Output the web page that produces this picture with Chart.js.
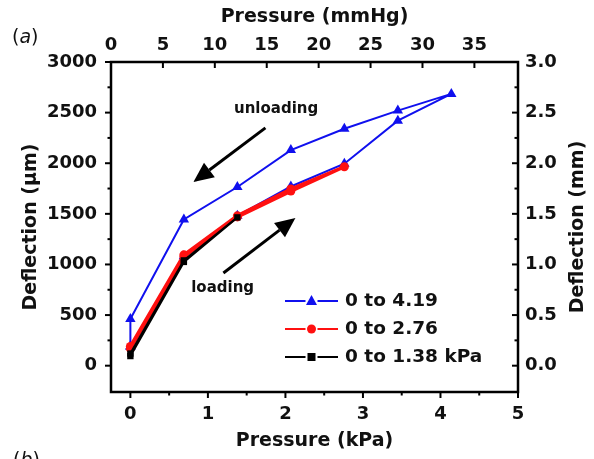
<!DOCTYPE html>
<html>
<head>
<meta charset="utf-8">
<script src="https://cdn.jsdelivr.net/npm/chart.js@4.4.0/dist/chart.umd.min.js"></script>
<style>
  html, body { margin: 0; padding: 0; background: #fff; }
  #wrap { position: relative; width: 594px; height: 459px; overflow: hidden; }
  .lab { position: absolute; font-family: 'DejaVu Sans', sans-serif; font-size: 19px; color: #111; }
</style>
</head>
<body>
<div id="wrap">
  <canvas id="c"></canvas>
  <span class="lab" style="left:12px; top:25px;">(<i>a</i>)</span>
  <span class="lab" style="left:13px; top:448px;">(<i>b</i>)</span>
</div>
<script>
// ---------- data ----------
const kpaBlue = [0, 0.69, 1.38, 2.07, 2.76, 3.45, 4.14, 3.45, 2.76, 2.07, 1.38, 0.69, 0, 0];
const defBlue = [190, 1080, 1480, 1770, 1995, 2420, 2685, 2520, 2340, 2130, 1765, 1445, 460, 190];

const kpaRed = [0, 0.69, 1.38, 2.07, 2.76, 2.07, 1.38, 0.69, 0];
const defRed = [170, 1075, 1470, 1725, 1965, 1745, 1480, 1095, 190];

const kpaBlack = [0, 0.69, 1.38, 0.69, 0];
const defBlack = [95, 1025, 1465, 1040, 120];

const seriesLabels = ['0 to 4.19', '0 to 2.76', '0 to 1.38 kPa'];

const kpaTicks = [0, 1, 2, 3, 4, 5];
const mmHgTicks = [0, 5, 10, 15, 20, 25, 30, 35];
const umTicks = [0, 500, 1000, 1500, 2000, 2500, 3000];
const mmTicks = [0, 0.5, 1.0, 1.5, 2.0, 2.5, 3.0];

const annotations = [
  { text: 'unloading', x: 1.88, y: 2537, fromX: 1.742, fromY: 2349, toX: 0.813, toY: 1815 },
  { text: 'loading', x: 1.19, y: 768, fromX: 1.20, fromY: 916, toX: 2.129, toY: 1459 }
];

// ---------- helpers ----------
const FONT = "'DejaVu Sans', sans-serif";
const pts = (xs, ys) => xs.map((x, i) => ({ x: x, y: ys[i] }));
const BLUE = '#1010ee', RED = '#ff1010', BLACK = '#000000';

const decorPlugin = {
  id: 'decor',
  afterDraw(chart) {
    const ctx = chart.ctx, a = chart.chartArea;
    const { x, x2, y, y2 } = chart.scales;
    ctx.save();
    ctx.strokeStyle = '#000';
    ctx.lineCap = 'butt';
    const seg = (x1, y1, x2_, y2_) => { ctx.beginPath(); ctx.moveTo(x1, y1); ctx.lineTo(x2_, y2_); ctx.stroke(); };
    ctx.lineWidth = 2;
    // bottom: outward
    kpaTicks.forEach((t, i) => {
      const p = x.getPixelForValue(t); seg(p, a.bottom, p, a.bottom + 6);
      if (i < kpaTicks.length - 1) { const m = x.getPixelForValue((t + kpaTicks[i + 1]) / 2); seg(m, a.bottom, m, a.bottom + 3.5); }
    });
    // top: inward
    mmHgTicks.forEach(t => { const p = x2.getPixelForValue(t); seg(p, a.top, p, a.top + 6); });
    // left: outward
    umTicks.forEach((t, i) => {
      const p = y.getPixelForValue(t); seg(a.left, p, a.left - 6, p);
      if (i < umTicks.length - 1) { const m = y.getPixelForValue((t + umTicks[i + 1]) / 2); seg(a.left, m, a.left - 3.5, m); }
    });
    // right: inward
    mmTicks.forEach((t, i) => {
      const p = y2.getPixelForValue(t); seg(a.right, p, a.right - 6, p);
      if (i < mmTicks.length - 1) { const m = y2.getPixelForValue((t + mmTicks[i + 1]) / 2); seg(a.right, m, a.right - 3.5, m); }
    });
    // frame
    ctx.lineWidth = 2.5;
    ctx.strokeRect(a.left, a.top, a.right - a.left, a.bottom - a.top);

    // right title (reads bottom-to-top)
    ctx.save();
    ctx.fillStyle = '#111';
    ctx.font = "bold 19px " + FONT;
    ctx.textAlign = 'center'; ctx.textBaseline = 'middle';
    ctx.translate(578, (a.top + a.bottom) / 2);
    ctx.rotate(-Math.PI / 2);
    ctx.fillText('Deflection (mm)', 0, 0);
    ctx.restore();

    // annotations
    annotations.forEach(an => {
      ctx.fillStyle = '#111';
      ctx.font = "bold 15px " + FONT;
      ctx.textAlign = 'center'; ctx.textBaseline = 'middle';
      ctx.fillText(an.text, x.getPixelForValue(an.x), y.getPixelForValue(an.y));
      const fx = x.getPixelForValue(an.fromX), fy = y.getPixelForValue(an.fromY);
      const tx = x.getPixelForValue(an.toX), ty = y.getPixelForValue(an.toY);
      const ang = Math.atan2(ty - fy, tx - fx);
      const hl = 20, hw = 9;
      const bx = tx - hl * Math.cos(ang), by = ty - hl * Math.sin(ang);
      ctx.strokeStyle = '#000'; ctx.lineWidth = 3;
      seg(fx, fy, bx, by);
      ctx.fillStyle = '#000';
      ctx.beginPath();
      ctx.moveTo(tx, ty);
      ctx.lineTo(bx + hw * Math.sin(ang), by - hw * Math.cos(ang));
      ctx.lineTo(bx - hw * Math.sin(ang), by + hw * Math.cos(ang));
      ctx.closePath(); ctx.fill();
    });

    // legend (line - marker - line)
    [0, 1, 2].forEach((di, row) => {
      const ds = chart.data.datasets[di];
      const ry = a.top + 239 + row * 28;
      const lx0 = a.left + 174, lx1 = a.left + 227, mx = (lx0 + lx1) / 2;
      ctx.strokeStyle = ds.borderColor; ctx.lineWidth = 2;
      seg(lx0, ry, mx - 6, ry); seg(mx + 6, ry, lx1, ry);
      ctx.fillStyle = ds.borderColor;
      ctx.beginPath();
      if (ds.pointStyle === 'triangle') {
        ctx.moveTo(mx, ry - 6); ctx.lineTo(mx + 5.5, ry + 4); ctx.lineTo(mx - 5.5, ry + 4); ctx.closePath();
      } else if (ds.pointStyle === 'circle') {
        ctx.arc(mx, ry, 4.5, 0, Math.PI * 2);
      } else {
        ctx.rect(mx - 4, ry - 4, 8, 8);
      }
      ctx.fill();
      ctx.fillStyle = '#111';
      ctx.font = "bold 18.5px " + FONT;
      ctx.textAlign = 'left'; ctx.textBaseline = 'middle';
      ctx.fillText(ds.label, lx1 + 7, ry);
    });
    ctx.restore();
  }
};

const tickFont = { family: FONT, size: 18, weight: 'bold' };
const titleFont = { family: FONT, size: 19, weight: 'bold' };
const setTicks = vals => (s => { s.ticks = vals.map(v => ({ value: v })); });

new Chart(document.getElementById('c'), {
  type: 'line',
  data: {
    datasets: [
      { label: seriesLabels[0], data: pts(kpaBlue, defBlue), borderColor: BLUE, backgroundColor: BLUE,
        borderWidth: 2, pointStyle: 'triangle', pointRadius: 6, pointBorderWidth: 0, order: 3 },
      { label: seriesLabels[1], data: pts(kpaRed, defRed), borderColor: RED, backgroundColor: RED,
        borderWidth: 3.5, pointStyle: 'circle', pointRadius: 4.5, pointBorderWidth: 0, order: 2 },
      { label: seriesLabels[2], data: pts(kpaBlack, defBlack), borderColor: BLACK, backgroundColor: BLACK,
        borderWidth: 2.2, pointStyle: 'rect', pointRadius: 4.5, pointBorderWidth: 0, order: 1 }
    ]
  },
  options: {
    responsive: true, maintainAspectRatio: false, devicePixelRatio: 1, animation: false,
    layout: { padding: 0 },
    elements: { line: { tension: 0, fill: false } },
    plugins: { legend: { display: false }, tooltip: { enabled: false } },
    scales: {
      x: {
        type: 'linear', position: 'bottom', min: -0.25, max: 5,
        afterBuildTicks: setTicks(kpaTicks),
        afterFit: s => { s.height = 67; },
        grid: { display: false, drawTicks: false, tickLength: 0 },
        border: { display: false },
        ticks: { font: tickFont, color: '#111', padding: 12, maxRotation: 0, callback: v => String(v) },
        title: { display: true, text: 'Pressure (kPa)', font: titleFont, color: '#111', padding: { top: 0, bottom: 7 } }
      },
      x2: {
        type: 'linear', position: 'top', min: 0, max: 39.2,
        afterBuildTicks: setTicks(mmHgTicks),
        afterFit: s => { s.height = 62; },
        grid: { display: false, drawTicks: false, tickLength: 0 },
        border: { display: false },
        ticks: { font: tickFont, color: '#111', padding: 6, maxRotation: 0, callback: v => String(v) },
        title: { display: true, text: 'Pressure (mmHg)', font: titleFont, color: '#111', padding: { top: 5.5, bottom: 0 } }
      },
      y: {
        type: 'linear', position: 'left', min: -260, max: 3000,
        afterBuildTicks: setTicks(umTicks),
        afterFit: s => { s.width = 111; },
        grid: { display: false, drawTicks: false, tickLength: 0 },
        border: { display: false },
        ticks: { font: tickFont, color: '#111', padding: 14, callback: v => String(v) },
        title: { display: true, text: 'Deflection (μm)', font: titleFont, color: '#111', padding: { top: 19.5, bottom: 0 } }
      },
      y2: {
        type: 'linear', position: 'right', min: -0.26, max: 3.0,
        afterBuildTicks: setTicks(mmTicks),
        afterFit: s => { s.width = 76; },
        grid: { display: false, drawTicks: false, tickLength: 0 },
        border: { display: false },
        ticks: { font: tickFont, color: '#111', padding: 7, callback: v => Number(v).toFixed(1) },
        title: { display: false }
      }
    }
  },
  plugins: [decorPlugin]
});
</script>
</body>
</html>
